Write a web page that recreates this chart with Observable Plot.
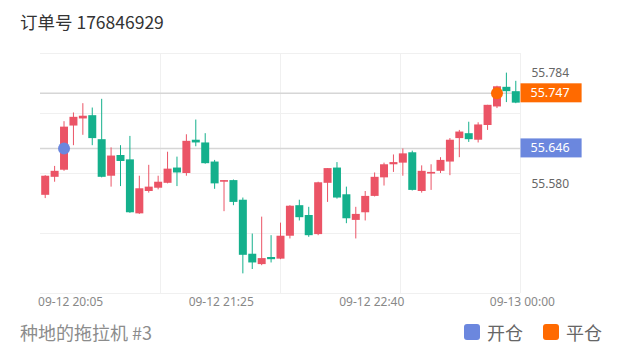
<!DOCTYPE html>
<html>
<head>
<meta charset="utf-8">
<script src="https://cdn.jsdelivr.net/npm/d3@7"></script>
<script src="https://cdn.jsdelivr.net/npm/@observablehq/plot@0.6"></script>
<style>
  body { margin: 0; background: #fff; font-family: "Noto Sans CJK SC", "Noto Sans", sans-serif; }
  #wrap { position: relative; width: 620px; height: 352px; overflow: hidden; background: #fff; }
  #title { position: absolute; left: 20px; top: 8px; font-size: 17.5px; line-height: 27px; color: #333; white-space: nowrap; }
  #chart { position: absolute; left: 0; top: 40px; }
  #foot { position: absolute; left: 20px; top: 320px; font-size: 18px; line-height: 24px; color: #8c8c8c; white-space: nowrap; }
  #legend { position: absolute; top: 320px; left: 464px; height: 24px; display: flex; align-items: center; font-size: 18px; color: #666; white-space: nowrap; }
  .sw { width: 16px; height: 16px; border-radius: 3px; display: inline-block; margin-right: 7px; flex: none; }
  .item { display: flex; align-items: center; margin-right: 20px; white-space: nowrap; }
</style>
</head>
<body>
<div id="wrap">
  <div id="title"></div>
  <div id="chart"></div>
  <div id="foot"></div>
  <div id="legend"></div>
</div>
<script>
// ---- data ----
const titleText = "订单号 176846929";
const footText = "种地的拖拉机 #3";
const opens  = [55.560,55.593,55.606,55.687,55.700,55.706,55.662,55.595,55.633,55.625,
                55.526,55.567,55.573,55.582,55.610,55.600,55.661,55.656,55.621,55.584,
                55.587,55.551,55.452,55.433,55.446,55.443,55.485,55.541,55.523,55.488,
                55.582,55.610,55.561,55.514,55.528,55.558,55.592,55.616,55.619,55.638,
                55.567,55.599,55.604,55.621,55.664,55.673,55.661,55.688,55.722,55.758,55.750];
const highs  = [55.596,55.613,55.695,55.711,55.728,55.720,55.736,55.647,55.651,55.668,
                55.595,55.615,55.595,55.639,55.630,55.671,55.698,55.673,55.624,55.587,
                55.588,55.555,55.489,55.520,55.486,55.509,55.541,55.551,55.538,55.584,
                55.609,55.620,55.575,55.538,55.567,55.601,55.619,55.634,55.645,55.641,
                55.614,55.616,55.629,55.664,55.679,55.694,55.693,55.725,55.760,55.784,55.769];
const lows   = [55.554,55.584,55.604,55.651,55.670,55.651,55.592,55.575,55.576,55.527,
                55.525,55.564,55.570,55.581,55.576,55.595,55.649,55.617,55.571,55.530,
                55.541,55.416,55.424,55.431,55.436,55.442,55.480,55.513,55.483,55.486,
                55.547,55.553,55.508,55.480,55.513,55.557,55.577,55.602,55.595,55.568,
                55.564,55.569,55.600,55.596,55.629,55.657,55.656,55.679,55.719,55.730,55.728];
const closes = [55.595,55.604,55.685,55.703,55.705,55.664,55.593,55.632,55.622,55.528,
                55.572,55.575,55.584,55.608,55.601,55.659,55.656,55.618,55.581,55.587,
                55.547,55.450,55.436,55.444,55.442,55.485,55.540,55.519,55.486,55.583,
                55.609,55.555,55.517,55.525,55.558,55.593,55.616,55.620,55.636,55.569,
                55.604,55.602,55.624,55.661,55.676,55.662,55.689,55.725,55.759,55.750,55.729];
const xTickPos    = [2.7, 18.7, 34.7, 50.7];
const xTickLabels = ["09-12 20:05", "09-12 21:25", "09-12 22:40", "09-13 00:00"];
const yTickValues = [55.784, 55.580];
const tradeNames  = ["开仓", "平仓"];
const tradeIndex  = [2, 48];
const tradePrice  = [55.646, 55.747];
const tradeColors = ["#6b87de", "#ff6a00"];
const yDomain = [55.38, 55.82];
const upColor = "#eb5466", downColor = "#14b08c";

// ---- build ----
const candles = opens.map((o, i) => ({i, open: o, high: highs[i], low: lows[i], close: closes[i],
  dir: closes[i] >= o ? "up" : "down"}));
const trades = tradeNames.map((n, k) => ({name: n, i: tradeIndex[k], price: tradePrice[k], color: tradeColors[k]}));
const xTicks = xTickPos.map((p, k) => ({pos: p, label: xTickLabels[k]}));
const xDomain = [-0.5, candles.length - 0.5];
const yGrid = d3.range(5).map(k => yDomain[0] + k * (yDomain[1] - yDomain[0]) / 4);
const xGrid = d3.range(1, 5).map(k => xDomain[0] + k * (xDomain[1] - xDomain[0]) / 4);
const fmt = d3.format(".3f");

document.getElementById("title").textContent = titleText;
document.getElementById("foot").textContent = footText;
const legend = d3.select("#legend");
trades.forEach(t => {
  const it = legend.append("div").attr("class", "item");
  it.append("span").attr("class", "sw").style("background", t.color);
  it.append("span").text(t.name);
});

const plot = Plot.plot({
  width: 620,
  height: 272,
  marginTop: 13,
  marginBottom: 19,
  marginLeft: 40,
  marginRight: 100,
  style: {fontFamily: "'Noto Sans', 'Noto Sans CJK SC', sans-serif", background: "#fff"},
  x: {type: "linear", domain: xDomain, axis: null},
  y: {domain: yDomain, axis: null},
  color: {domain: ["up", "down"], range: [upColor, downColor]},
  marks: [
    Plot.ruleY(yGrid, {stroke: "#f0f0f0"}),
    Plot.ruleX(xGrid, {stroke: "#f0f0f0"}),
    Plot.ruleY(tradePrice, {stroke: "#d6d6d6", strokeWidth: 1.5}),
    Plot.ruleX(candles, {x: "i", y1: "low", y2: "high", stroke: "dir", strokeWidth: 1}),
    Plot.ruleX(candles, {x: "i", y1: "open", y2: "close", stroke: "dir", strokeWidth: 8}),
    Plot.dot(trades, {x: "i", y: "price", fill: d => d.color, r: 6}),
    Plot.text(yTickValues, {y: d => d, text: d => fmt(d), frameAnchor: "right", dx: 11,
      textAnchor: "start", fill: "#666", fontSize: 12}),
    Plot.text(trades, {y: "price", text: d => fmt(d.price), frameAnchor: "right", dx: 10,
      textAnchor: "start", fill: "#fff", fontSize: 12.5}),
    Plot.text(xTicks, {x: "pos", text: "label", frameAnchor: "bottom", lineAnchor: "top", dy: 4,
      fill: "#888", fontSize: 12})
  ]
});
document.getElementById("chart").appendChild(plot);

// boxes behind price tags, placed in each text's own coordinate frame
const tagTexts = Array.from(plot.querySelectorAll("text"))
  .filter(t => trades.some(tr => fmt(tr.price) === t.textContent));
tagTexts.forEach(el => {
  const bb = el.getBBox();
  const t = trades.find(tr => fmt(tr.price) === el.textContent);
  const r = d3.select(el.parentNode).insert("rect", () => el)
    .attr("x", bb.x - 10).attr("y", bb.y + bb.height / 2 - 9.5)
    .attr("width", bb.width + 22).attr("height", 19)
    .attr("fill", t.color);
  const tr = el.getAttribute("transform");
  if (tr) r.attr("transform", tr);
});
</script>
</body>
</html>
